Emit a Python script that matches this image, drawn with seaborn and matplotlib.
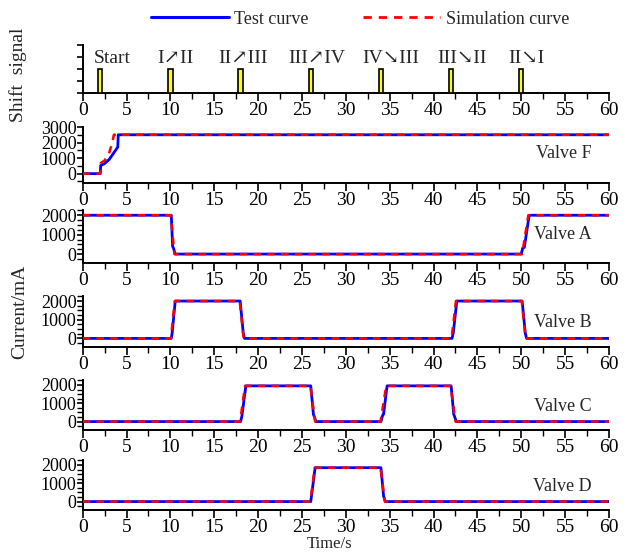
import numpy as np
import pandas as pd
import matplotlib
matplotlib.use("Agg")
import matplotlib.pyplot as plt
import seaborn as sns
from matplotlib.ticker import MultipleLocator, NullFormatter
from matplotlib.lines import Line2D

sns.set_theme(style="ticks")
plt.rcParams['font.family'] = ['Liberation Serif', 'DejaVu Serif']

# ---------------- data ----------------
shift_times = [2, 10, 18, 26, 34, 42, 50]
shift_height = [1, 1, 1, 1, 1, 1, 1]
shift_labels = ['Start', 'I\u2197II', 'II\u2197III', 'III\u2197IV', 'IV\u2198III', 'III\u2198II', 'II\u2198I']

F_test_t = [0, 2.0, 2.05, 2.5, 3.0, 3.5, 3.92, 4.0, 4.05, 60]
F_test_v = [0, 0, 520, 650, 900, 1300, 1650, 1700, 2500, 2500]
F_sim_t = [0, 2.0, 2.05, 2.5, 3.0, 3.4, 3.55, 60]
F_sim_v = [0, 0, 680, 850, 1300, 2050, 2500, 2500]

A_test_t = [0, 10.1, 10.25, 10.35, 10.55, 50.0, 50.15, 50.35, 50.9, 60]
A_test_v = [2000, 2000, 400, 300, 0, 0, 300, 350, 2000, 2000]
A_sim_t = [0, 10.05, 10.45, 50.1, 50.8, 60]
A_sim_v = [2000, 2000, 0, 0, 2000, 2000]

B_test_t = [0, 10.1, 10.2, 10.55, 17.95, 18.3, 18.45, 42.1, 42.25, 42.65, 50.1, 50.45, 50.6, 60]
B_test_v = [0, 0, 300, 2000, 2000, 300, 0, 0, 300, 2000, 2000, 300, 0, 0]
B_sim_t = [0, 10.05, 10.5, 17.9, 18.35, 42.05, 42.55, 50.05, 50.5, 60]
B_sim_v = [0, 0, 2000, 2000, 0, 0, 2000, 2000, 0, 0]

C_test_t = [0, 18.0, 18.15, 18.6, 26.0, 26.3, 26.6, 34.0, 34.2, 34.3, 34.7, 42.0, 42.3, 42.6, 60]
C_test_v = [0, 0, 300, 1950, 1950, 400, 0, 0, 350, 400, 1950, 1950, 400, 0, 0]
C_sim_t = [0, 17.95, 18.5, 25.95, 26.5, 33.95, 34.6, 41.95, 42.5, 60]
C_sim_v = [0, 0, 1950, 1950, 0, 0, 1950, 1950, 0, 0]

D_test_t = [0, 26.0, 26.5, 34.0, 34.3, 34.5, 60]
D_test_v = [0, 0, 1850, 1850, 300, 0, 0]
D_sim_t = [0, 25.95, 26.45, 33.95, 34.45, 60]
D_sim_v = [0, 0, 1850, 1850, 0, 0]

valve_names = ['Valve F', 'Valve A', 'Valve B', 'Valve C', 'Valve D']
x_ticks = [0, 5, 10, 15, 20, 25, 30, 35, 40, 45, 50, 55, 60]

# ---------------- figure ----------------
W, H = 632, 554
fig = plt.figure(figsize=(W / 100, H / 100), dpi=100)

left = 82.7 / W
width = (609 - 82.7) / W
panels_px = [(45, 93), (127, 183), (210, 263), (296, 347), (380, 430), (460, 510)]
axes = []
for top, bot in panels_px:
    ax = fig.add_axes([left, 1 - bot / H, width, (bot - top) / H])
    axes.append(ax)

def style_axis(ax):
    sns.despine(ax=ax)
    ax.set_facecolor('none')
    for s in ['left', 'bottom']:
        ax.spines[s].set_color('black')
        ax.spines[s].set_linewidth(1.4)
    ax.set_xlim(0, 60)
    ax.set_xticks(x_ticks)
    ax.xaxis.set_minor_locator(MultipleLocator(2.5))
    ax.tick_params(axis='x', which='major', direction='out', length=6, width=1.2,
                   labelsize=14, pad=0.5, colors='black')
    ax.tick_params(axis='x', which='minor', direction='out', length=4, width=1.0, colors='black')
    ax.tick_params(axis='y', which='major', direction='out', length=4, width=1.2,
                   labelsize=13, pad=0.5, colors='black')
    ax.tick_params(axis='y', which='minor', direction='out', length=4, width=1.0, colors='black')
    ax.set_xlabel('')
    ax.set_ylabel('')
    ax.grid(False)

# Panel 1: shift signal
ax0 = axes[0]
ax0.bar(shift_times, shift_height, width=0.5, color='#ffff00', edgecolor='black', linewidth=1.2, zorder=3)
style_axis(ax0)
ax0.set_ylim(0, 2)
ax0.yaxis.set_major_locator(MultipleLocator(0.5))
ax0.yaxis.set_major_formatter(NullFormatter())
label_x = [3.4, 10.6, 18.3, 26.7, 35.1, 43.2, 50.6]
for lx, lab in zip(label_x, shift_labels):
    ax0.text(lx, 1.45, lab, ha='center', va='center', fontsize=14,
             family=['Liberation Serif', 'DejaVu Serif'])

series = [
    (F_test_t, F_test_v, F_sim_t, F_sim_v),
    (A_test_t, A_test_v, A_sim_t, A_sim_v),
    (B_test_t, B_test_v, B_sim_t, B_sim_v),
    (C_test_t, C_test_v, C_sim_t, C_sim_v),
    (D_test_t, D_test_v, D_sim_t, D_sim_v),
]
label_y = [1320, 1000, 870, 850, 800]

for i, (tt, tv, st, sv) in enumerate(series):
    ax = axes[i + 1]
    sns.lineplot(x=tt, y=tv, ax=ax, color='#0000ff', linewidth=2.0, sort=False,
                 estimator=None, zorder=3)
    sns.lineplot(x=st, y=sv, ax=ax, color='#ff0000', linewidth=1.8, sort=False,
                 estimator=None, zorder=4, linestyle=(0, (3, 2.5)))
    style_axis(ax)
    if i == 0:
        ax.set_ylim(-600, 3000)
        ax.set_yticks([0, 1000, 2000, 3000])
        ax.yaxis.set_minor_locator(MultipleLocator(500))
    else:
        ax.set_ylim(-460, 2270)
        ax.set_yticks([0, 1000, 2000])
        ax.yaxis.set_minor_locator(MultipleLocator(250))
    ax.text(58.0, label_y[i], valve_names[i], ha='right', va='center', fontsize=13)

# labels
fig.text(18 / W, 1 - 75 / H, 'Shift  signal', rotation=90, ha='center', va='center', fontsize=14)
fig.text(20 / W, 1 - 312 / H, 'Current/mA', rotation=90, ha='center', va='center', fontsize=14)
fig.text(330 / W, 1.5 / H, 'Time/s', ha='center', va='bottom', fontsize=12)

# legend
handles = [Line2D([], [], color='#0000ff', linewidth=2.2),
           Line2D([], [], color='#ff0000', linewidth=2.0, linestyle=(0, (3, 2.5)))]
fig.legend(handles, ['Test curve', 'Simulation curve'], loc='center',
           bbox_to_anchor=(360 / W, 1 - 19 / H), ncol=2, frameon=False,
           fontsize=13, handlelength=4.3, handletextpad=0.3, columnspacing=3.0)

fig.savefig('out.png', dpi=100)
